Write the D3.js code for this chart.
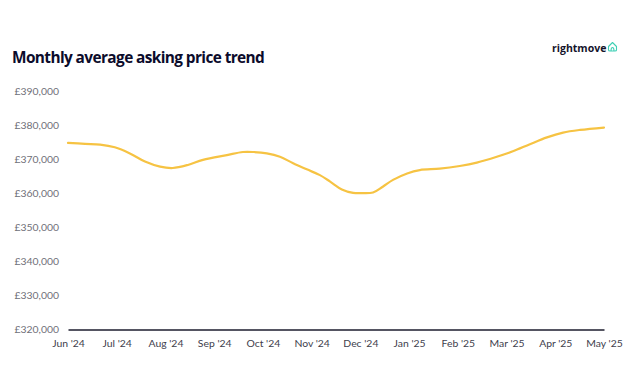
<!DOCTYPE html>
<html lang="en">
<head>
    <meta charset="UTF-8">
    <title>Monthly average asking price trend</title>
    <script src="https://d3js.org/d3.v7.min.js"></script>
    <style>
        html, body { margin: 0; padding: 0; background: #fff; }
        svg { display: block; }
        text { font-family: "Lato", sans-serif; }
        .y-axis text { font-size: 10.4px; fill: #6f6f78; }
        .x-axis text { font-size: 10.4px; fill: #40404c; }
        .title { font-family: "Open Sans", sans-serif; font-size: 15.4px; font-weight: 700; fill: #0b0b2b; letter-spacing: -0.6px; }
        .logo { font-family: "Open Sans", sans-serif; font-size: 10.5px; font-weight: 700; fill: #14142b; }
    </style>
</head>
<body>
<svg viewBox="0 0 634 371" width="634" height="371"></svg>
<script>
    const months = ["Jun '24", "Jul '24", "Aug '24", "Sep '24", "Oct '24", "Nov '24", "Dec '24",
        "Jan '25", "Feb '25", "Mar '25", "Apr '25", "May '25"];
    const priceTicks = [320000, 330000, 340000, 350000, 360000, 370000, 380000, 390000];

    // readings: position in months since Jun '24, and the price there
    const monthsSinceStart = [0, 0.35, 0.66, 0.96, 1.27, 1.58, 1.89, 2.15, 2.46, 2.77, 3.26, 3.59, 3.8,
        4.08, 4.35, 4.62, 4.9, 5.17, 5.38, 5.62, 5.85, 6.03, 6.26, 6.46, 6.67, 6.96, 7.22, 7.63, 8.04,
        8.39, 8.8, 9.13, 9.48, 9.83, 10.16, 10.51, 11];
    const askingPrice = [374900, 374600, 374400, 373600, 371800, 369400, 367900, 367500, 368400, 369900,
        371300, 372200, 372200, 371800, 370800, 368900, 367100, 365400, 363500, 361200, 360200, 360100,
        360300, 362000, 364000, 365900, 366900, 367300, 368100, 369100, 370800, 372400, 374500, 376500,
        377900, 378700, 379400];

    const plotLeft = 68, plotRight = 604, plotTop = 91.5, plotBottom = 329.5;
    const svg = d3.select("svg");

    const xLabels = d3.scalePoint().domain(months).range([plotLeft, plotRight]);
    const xPos = d3.scaleLinear().domain([0, months.length - 1]).range([plotLeft, plotRight]);
    const y = d3.scaleLinear().domain([320000, 390000]).range([plotBottom, plotTop]);

    svg.append("text").attr("class", "title").attr("x", 12).attr("y", 62.5)
        .text("Monthly average asking price trend");

    // logo
    svg.append("text").attr("class", "logo").attr("x", 552).attr("y", 52).text("rightmove");
    svg.append("path")
        .attr("d", "M608.5 46.5 L608.5 50 Q608.5 51 610 51 L615 51 Q616.5 51 616.5 50 L616.5 46.5 L612.5 42.5 Z M611 51 Q611 47.5 612.5 47.5 Q614 47.5 614 51")
        .attr("fill", "none").attr("stroke", "#3fd0b5").attr("stroke-width", 1.1).attr("stroke-linejoin", "round");

    const yAxis = svg.append("g").attr("class", "y-axis")
        .attr("transform", `translate(${plotLeft},0)`)
        .call(d3.axisLeft(y).tickValues(priceTicks).tickSize(0).tickPadding(9)
            .tickFormat(d => "£" + d3.format(",")(d)));
    yAxis.select(".domain").remove();

    const xAxis = svg.append("g").attr("class", "x-axis")
        .attr("transform", `translate(0,${plotBottom})`)
        .call(d3.axisBottom(xLabels).tickSize(0).tickPadding(10));
    xAxis.select(".domain").attr("stroke", "#1c1c2e").attr("stroke-width", 1.3);

    const line = d3.line()
        .x(d => xPos(d[0]))
        .y(d => y(d[1]))
        .curve(d3.curveCatmullRom.alpha(0.5));

    svg.append("path")
        .datum(d3.zip(monthsSinceStart, askingPrice))
        .attr("d", line)
        .attr("fill", "none")
        .attr("stroke", "#f6c343")
        .attr("stroke-width", 2.2)
        .attr("stroke-linecap", "round");
</script>
</body>
</html>
